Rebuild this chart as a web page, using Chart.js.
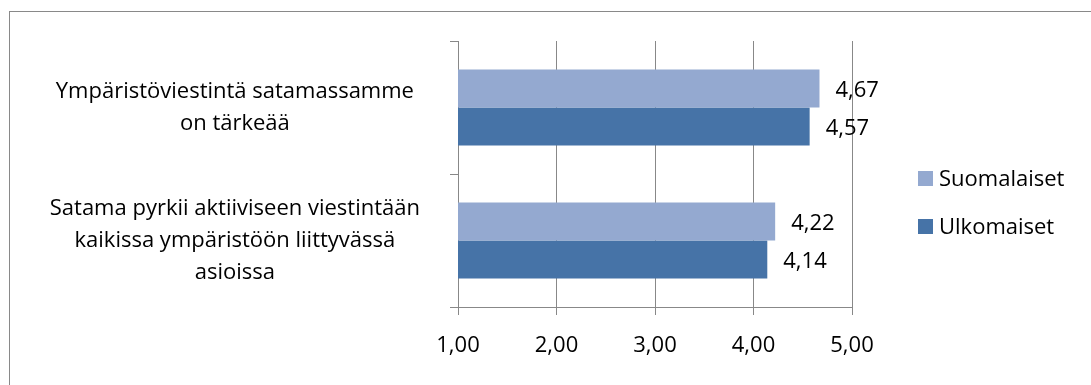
<!DOCTYPE html>
<html>
<head>
<meta charset="utf-8">
<script src="https://cdn.jsdelivr.net/npm/chart.js@4/dist/chart.umd.min.js"></script>
<style>
  html, body { margin: 0; padding: 0; background: #fff; }
  #wrap { position: relative; width: 1091px; height: 385px; overflow: hidden; }
  #frame { position: absolute; left: 9px; top: 11px; width: 1200px; height: 500px;
           border-left: 1px solid #898989; border-top: 1px solid #898989; }
  #legend { position: absolute; left: 918px; top: 0; font-family: "Open Sans", sans-serif;
            font-size: 22px; color: #000; }
  .lg-item { position: absolute; left: 0; white-space: nowrap; height: 20px; line-height: 20px; }
  .lg-box { position: absolute; left: 0; top: 3px; width: 15px; height: 15px; }
  .lg-text { position: absolute; left: 21px; top: -1px; }
</style>
</head>
<body>
<div id="wrap">
  <div id="frame"></div>
  <canvas id="chart-satama" width="1091" height="385"></canvas>
  <div id="legend"></div>
</div>
<script>
// Väittämät (kategoriat) ja vastaajaryhmien keskiarvot
var categories = [
  ['Ympäristöviestintä satamassamme', 'on tärkeää'],
  ['Satama pyrkii aktiiviseen viestintään', 'kaikissa ympäristöön liittyvässä', 'asioissa']
];
var seriesNames  = ['Suomalaiset', 'Ulkomaiset'];
var suomalaiset  = [4.67, 4.22];
var ulkomaiset   = [4.57, 4.14];
var xTicks       = [1, 2, 3, 4, 5];

var COLORS = ['#94a9d0', '#4673a7'];
var FONT = '"Open Sans", sans-serif';
var FSIZE = 22;
var GRID = '#888888';

function fmt(v) { return v.toFixed(2).replace('.', ','); }

// arvotekstit palkkien perään
var valueLabels = {
  id: 'valueLabels',
  afterDatasetsDraw: function(chart) {
    var ctx = chart.ctx;
    ctx.save();
    ctx.font = FSIZE + 'px ' + FONT;
    ctx.fillStyle = '#000';
    ctx.textAlign = 'left';
    ctx.textBaseline = 'middle';
    chart.data.datasets.forEach(function(ds, i) {
      chart.getDatasetMeta(i).data.forEach(function(bar, j) {
        ctx.fillText(fmt(ds.data[j]), bar.x + 16, bar.y + 2);
      });
    });
    ctx.restore();
  }
};

var chart = new Chart(document.getElementById('chart-satama').getContext('2d'), {
  type: 'bar',
  data: {
    labels: categories,
    datasets: [
      { label: seriesNames[0], data: suomalaiset, backgroundColor: COLORS[0] },
      { label: seriesNames[1], data: ulkomaiset,  backgroundColor: COLORS[1] }
    ]
  },
  options: {
    indexAxis: 'y',
    responsive: false,
    animation: false,
    events: [],
    layout: { padding: { top: 41, right: 239, bottom: 0, left: 0 } },
    datasets: { bar: { categoryPercentage: 0.571, barPercentage: 1.0 } },
    plugins: { legend: { display: false }, tooltip: { enabled: false } },
    scales: {
      x: {
        min: 1, max: 5,
        afterBuildTicks: function(s) { s.ticks = xTicks.map(function(v) { return { value: v }; }); },
        afterFit: function(s) { s.height = 78; s.paddingLeft = 0; s.paddingRight = 0; },
        ticks: { color: '#000', padding: 18, font: { family: FONT, size: FSIZE },
                 callback: function(v) { return fmt(v); } },
        grid: { color: GRID, lineWidth: 1, tickLength: 8 },
        border: { color: GRID, width: 1 }
      },
      y: {
        afterFit: function(s) { s.width = 458; s.paddingTop = 0; s.paddingBottom = 0; },
        ticks: { color: '#000', crossAlign: 'center', padding: 30,
                 font: { family: FONT, size: FSIZE, lineHeight: 1.45 } },
        grid: { drawOnChartArea: false, color: GRID, lineWidth: 1, tickLength: 8, offset: true },
        border: { color: GRID, width: 1 }
      }
    }
  },
  plugins: [valueLabels]
});

// selite sarjojen nimistä ja väreistä
var legendTops = [168, 216];
var legend = document.getElementById('legend');
chart.data.datasets.forEach(function(ds, i) {
  var item = document.createElement('div');
  item.className = 'lg-item';
  item.style.top = legendTops[i] + 'px';
  var box = document.createElement('span');
  box.className = 'lg-box';
  box.style.background = ds.backgroundColor;
  var txt = document.createElement('span');
  txt.className = 'lg-text';
  txt.textContent = ds.label;
  item.appendChild(box);
  item.appendChild(txt);
  legend.appendChild(item);
});
</script>
</body>
</html>
